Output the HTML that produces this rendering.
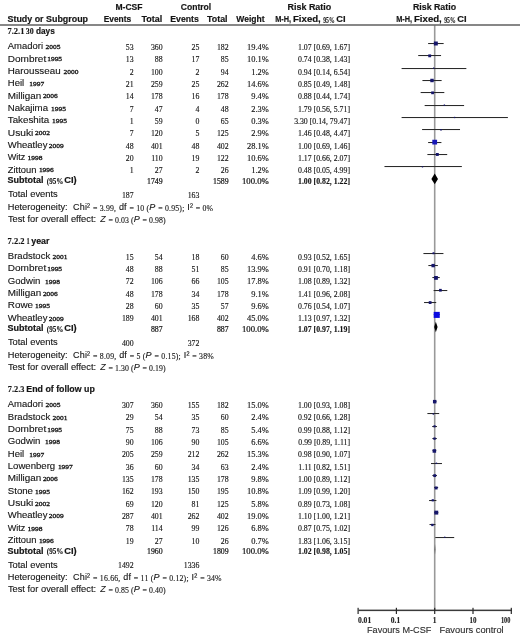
<!DOCTYPE html>
<html><head><meta charset="utf-8"><style>
html,body{margin:0;padding:0;background:#fff;width:520px;height:636px;overflow:hidden}
svg{display:block;filter:blur(0.25px)}
text{stroke:#151515;stroke-width:.12px}
text[font-weight="bold"]:not([font-family*="Serif"]){stroke-width:.18px}
text[font-family*="Serif"]:not([font-weight="bold"]){stroke-width:.14px}
</style></head><body>
<svg width="520" height="636" viewBox="0 0 520 636">
<rect width="520" height="636" fill="#fff"/>
<rect x="433.90" y="25" width="1.6" height="585" fill="#999"/>
<rect x="0" y="24.2" width="520" height="1.6" fill="#6a6a6a"/>
<text x="129.00" y="9.50" font-family='"Liberation Sans"' font-size="9" font-weight="bold" text-anchor="middle" textLength="27.00" lengthAdjust="spacingAndGlyphs" fill="#151515">M-CSF</text>
<text x="196.00" y="9.50" font-family='"Liberation Sans"' font-size="9" font-weight="bold" text-anchor="middle" textLength="30.50" lengthAdjust="spacingAndGlyphs" fill="#151515">Control</text>
<text x="309.40" y="9.50" font-family='"Liberation Sans"' font-size="9" font-weight="bold" text-anchor="middle" textLength="43.70" lengthAdjust="spacingAndGlyphs" fill="#151515">Risk Ratio</text>
<text x="434.50" y="9.50" font-family='"Liberation Sans"' font-size="9" font-weight="bold" text-anchor="middle" textLength="43.10" lengthAdjust="spacingAndGlyphs" fill="#151515">Risk Ratio</text>
<text x="7.50" y="22.00" font-family='"Liberation Sans"' font-size="9" font-weight="bold" textLength="80.50" lengthAdjust="spacingAndGlyphs" fill="#151515">Study or Subgroup</text>
<text x="131.20" y="22.00" font-family='"Liberation Sans"' font-size="9" font-weight="bold" text-anchor="end" textLength="27.50" lengthAdjust="spacingAndGlyphs" fill="#151515">Events</text>
<text x="162.20" y="22.00" font-family='"Liberation Sans"' font-size="9" font-weight="bold" text-anchor="end" textLength="20.80" lengthAdjust="spacingAndGlyphs" fill="#151515">Total</text>
<text x="198.80" y="22.00" font-family='"Liberation Sans"' font-size="9" font-weight="bold" text-anchor="end" textLength="28.50" lengthAdjust="spacingAndGlyphs" fill="#151515">Events</text>
<text x="227.60" y="22.00" font-family='"Liberation Sans"' font-size="9" font-weight="bold" text-anchor="end" textLength="20.50" lengthAdjust="spacingAndGlyphs" fill="#151515">Total</text>
<text x="264.60" y="22.00" font-family='"Liberation Sans"' font-size="9" font-weight="bold" text-anchor="end" textLength="28.30" lengthAdjust="spacingAndGlyphs" fill="#151515">Weight</text>
<text x="275.20" y="22.00" font-family='"Liberation Sans"' font-size="9" font-weight="bold" textLength="15.90" lengthAdjust="spacingAndGlyphs" fill="#151515">M-H,</text>
<text x="293.00" y="22.00" font-family='"Liberation Sans"' font-size="9" font-weight="bold" textLength="27.80" lengthAdjust="spacingAndGlyphs" fill="#151515">Fixed,</text>
<text x="323.20" y="22.70" font-family='"Liberation Serif"' font-size="9" font-weight="bold" textLength="11.40" lengthAdjust="spacingAndGlyphs" fill="#151515">95%</text>
<text x="336.20" y="22.00" font-family='"Liberation Sans"' font-size="9" font-weight="bold" textLength="9.30" lengthAdjust="spacingAndGlyphs" fill="#151515">CI</text>
<text x="396.20" y="22.00" font-family='"Liberation Sans"' font-size="9" font-weight="bold" textLength="15.90" lengthAdjust="spacingAndGlyphs" fill="#151515">M-H,</text>
<text x="414.00" y="22.00" font-family='"Liberation Sans"' font-size="9" font-weight="bold" textLength="27.80" lengthAdjust="spacingAndGlyphs" fill="#151515">Fixed,</text>
<text x="444.20" y="22.70" font-family='"Liberation Serif"' font-size="9" font-weight="bold" textLength="11.40" lengthAdjust="spacingAndGlyphs" fill="#151515">95%</text>
<text x="457.20" y="22.00" font-family='"Liberation Sans"' font-size="9" font-weight="bold" textLength="9.30" lengthAdjust="spacingAndGlyphs" fill="#151515">CI</text>
<text x="7.50" y="33.80" font-family='"Liberation Serif"' font-size="8.0" font-weight="bold" textLength="16.90" lengthAdjust="spacingAndGlyphs" fill="#151515">7.2.1</text>
<text x="25.80" y="33.80" font-family='"Liberation Serif"' font-size="8.0" font-weight="bold" textLength="7.90" lengthAdjust="spacingAndGlyphs" fill="#151515">30</text>
<text x="36.00" y="34.00" font-family='"Liberation Sans"' font-size="9" font-weight="bold" textLength="18.80" lengthAdjust="spacingAndGlyphs" fill="#151515">days</text>
<text x="7.80" y="49.20" font-family='"Liberation Sans"' font-size="9" textLength="35.20" lengthAdjust="spacingAndGlyphs" fill="#151515">Amadori</text>
<text x="45.60" y="49.10" font-family='"Liberation Serif"' font-size="6.6" fill="#151515" style="stroke-width:.3px" textLength="14.9" lengthAdjust="spacingAndGlyphs">2005</text>
<text x="133.60" y="50.00" font-family='"Liberation Serif"' font-size="7.8" text-anchor="end" fill="#151515">53</text>
<text x="162.60" y="50.00" font-family='"Liberation Serif"' font-size="7.8" text-anchor="end" fill="#151515">360</text>
<text x="199.40" y="50.00" font-family='"Liberation Serif"' font-size="7.8" text-anchor="end" fill="#151515">25</text>
<text x="228.60" y="50.00" font-family='"Liberation Serif"' font-size="7.8" text-anchor="end" fill="#151515">182</text>
<text x="268.80" y="50.00" font-family='"Liberation Serif"' font-size="7.8" text-anchor="end" textLength="21.76" lengthAdjust="spacingAndGlyphs" fill="#151515">19.4%</text>
<text x="350.00" y="50.00" font-family='"Liberation Serif"' font-size="7.8" text-anchor="end" fill="#151515">1.07 [0.69, 1.67]</text>
<text x="7.80" y="61.53" font-family='"Liberation Sans"' font-size="9" textLength="38.40" lengthAdjust="spacingAndGlyphs" fill="#151515">Dombret</text>
<text x="47.20" y="61.43" font-family='"Liberation Serif"' font-size="6.6" fill="#151515" style="stroke-width:.3px" textLength="14.9" lengthAdjust="spacingAndGlyphs">1995</text>
<text x="133.60" y="62.33" font-family='"Liberation Serif"' font-size="7.8" text-anchor="end" fill="#151515">13</text>
<text x="162.60" y="62.33" font-family='"Liberation Serif"' font-size="7.8" text-anchor="end" fill="#151515">88</text>
<text x="199.40" y="62.33" font-family='"Liberation Serif"' font-size="7.8" text-anchor="end" fill="#151515">17</text>
<text x="228.60" y="62.33" font-family='"Liberation Serif"' font-size="7.8" text-anchor="end" fill="#151515">85</text>
<text x="268.80" y="62.33" font-family='"Liberation Serif"' font-size="7.8" text-anchor="end" textLength="21.76" lengthAdjust="spacingAndGlyphs" fill="#151515">10.1%</text>
<text x="350.00" y="62.33" font-family='"Liberation Serif"' font-size="7.8" text-anchor="end" fill="#151515">0.74 [0.38, 1.43]</text>
<text x="7.80" y="73.86" font-family='"Liberation Sans"' font-size="9" textLength="52.80" lengthAdjust="spacingAndGlyphs" fill="#151515">Harousseau</text>
<text x="63.60" y="73.76" font-family='"Liberation Serif"' font-size="6.6" fill="#151515" style="stroke-width:.3px" textLength="14.9" lengthAdjust="spacingAndGlyphs">2000</text>
<text x="133.60" y="74.66" font-family='"Liberation Serif"' font-size="7.8" text-anchor="end" fill="#151515">2</text>
<text x="162.60" y="74.66" font-family='"Liberation Serif"' font-size="7.8" text-anchor="end" fill="#151515">100</text>
<text x="199.40" y="74.66" font-family='"Liberation Serif"' font-size="7.8" text-anchor="end" fill="#151515">2</text>
<text x="228.60" y="74.66" font-family='"Liberation Serif"' font-size="7.8" text-anchor="end" fill="#151515">94</text>
<text x="268.80" y="74.66" font-family='"Liberation Serif"' font-size="7.8" text-anchor="end" textLength="17.55" lengthAdjust="spacingAndGlyphs" fill="#151515">1.2%</text>
<text x="350.00" y="74.66" font-family='"Liberation Serif"' font-size="7.8" text-anchor="end" fill="#151515">0.94 [0.14, 6.54]</text>
<text x="7.80" y="86.19" font-family='"Liberation Sans"' font-size="9" textLength="16.40" lengthAdjust="spacingAndGlyphs" fill="#151515">Heil</text>
<text x="29.30" y="86.09" font-family='"Liberation Serif"' font-size="6.6" fill="#151515" style="stroke-width:.3px" textLength="14.9" lengthAdjust="spacingAndGlyphs">1997</text>
<text x="133.60" y="86.99" font-family='"Liberation Serif"' font-size="7.8" text-anchor="end" fill="#151515">21</text>
<text x="162.60" y="86.99" font-family='"Liberation Serif"' font-size="7.8" text-anchor="end" fill="#151515">259</text>
<text x="199.40" y="86.99" font-family='"Liberation Serif"' font-size="7.8" text-anchor="end" fill="#151515">25</text>
<text x="228.60" y="86.99" font-family='"Liberation Serif"' font-size="7.8" text-anchor="end" fill="#151515">262</text>
<text x="268.80" y="86.99" font-family='"Liberation Serif"' font-size="7.8" text-anchor="end" textLength="21.76" lengthAdjust="spacingAndGlyphs" fill="#151515">14.6%</text>
<text x="350.00" y="86.99" font-family='"Liberation Serif"' font-size="7.8" text-anchor="end" fill="#151515">0.85 [0.49, 1.48]</text>
<text x="7.80" y="98.52" font-family='"Liberation Sans"' font-size="9" textLength="33.40" lengthAdjust="spacingAndGlyphs" fill="#151515">Milligan</text>
<text x="42.90" y="98.42" font-family='"Liberation Serif"' font-size="6.6" fill="#151515" style="stroke-width:.3px" textLength="14.9" lengthAdjust="spacingAndGlyphs">2006</text>
<text x="133.60" y="99.32" font-family='"Liberation Serif"' font-size="7.8" text-anchor="end" fill="#151515">14</text>
<text x="162.60" y="99.32" font-family='"Liberation Serif"' font-size="7.8" text-anchor="end" fill="#151515">178</text>
<text x="199.40" y="99.32" font-family='"Liberation Serif"' font-size="7.8" text-anchor="end" fill="#151515">16</text>
<text x="228.60" y="99.32" font-family='"Liberation Serif"' font-size="7.8" text-anchor="end" fill="#151515">178</text>
<text x="268.80" y="99.32" font-family='"Liberation Serif"' font-size="7.8" text-anchor="end" textLength="17.55" lengthAdjust="spacingAndGlyphs" fill="#151515">9.4%</text>
<text x="350.00" y="99.32" font-family='"Liberation Serif"' font-size="7.8" text-anchor="end" fill="#151515">0.88 [0.44, 1.74]</text>
<text x="7.80" y="110.85" font-family='"Liberation Sans"' font-size="9" textLength="40.20" lengthAdjust="spacingAndGlyphs" fill="#151515">Nakajima</text>
<text x="51.00" y="110.75" font-family='"Liberation Serif"' font-size="6.6" fill="#151515" style="stroke-width:.3px" textLength="14.9" lengthAdjust="spacingAndGlyphs">1995</text>
<text x="133.60" y="111.65" font-family='"Liberation Serif"' font-size="7.8" text-anchor="end" fill="#151515">7</text>
<text x="162.60" y="111.65" font-family='"Liberation Serif"' font-size="7.8" text-anchor="end" fill="#151515">47</text>
<text x="199.40" y="111.65" font-family='"Liberation Serif"' font-size="7.8" text-anchor="end" fill="#151515">4</text>
<text x="228.60" y="111.65" font-family='"Liberation Serif"' font-size="7.8" text-anchor="end" fill="#151515">48</text>
<text x="268.80" y="111.65" font-family='"Liberation Serif"' font-size="7.8" text-anchor="end" textLength="17.55" lengthAdjust="spacingAndGlyphs" fill="#151515">2.3%</text>
<text x="350.00" y="111.65" font-family='"Liberation Serif"' font-size="7.8" text-anchor="end" fill="#151515">1.79 [0.56, 5.71]</text>
<text x="7.80" y="123.18" font-family='"Liberation Sans"' font-size="9" textLength="41.30" lengthAdjust="spacingAndGlyphs" fill="#151515">Takeshita</text>
<text x="52.00" y="123.08" font-family='"Liberation Serif"' font-size="6.6" fill="#151515" style="stroke-width:.3px" textLength="14.9" lengthAdjust="spacingAndGlyphs">1995</text>
<text x="133.60" y="123.98" font-family='"Liberation Serif"' font-size="7.8" text-anchor="end" fill="#151515">1</text>
<text x="162.60" y="123.98" font-family='"Liberation Serif"' font-size="7.8" text-anchor="end" fill="#151515">59</text>
<text x="199.40" y="123.98" font-family='"Liberation Serif"' font-size="7.8" text-anchor="end" fill="#151515">0</text>
<text x="228.60" y="123.98" font-family='"Liberation Serif"' font-size="7.8" text-anchor="end" fill="#151515">65</text>
<text x="268.80" y="123.98" font-family='"Liberation Serif"' font-size="7.8" text-anchor="end" textLength="17.55" lengthAdjust="spacingAndGlyphs" fill="#151515">0.3%</text>
<text x="350.00" y="123.98" font-family='"Liberation Serif"' font-size="7.8" text-anchor="end" fill="#151515">3.30 [0.14, 79.47]</text>
<text x="7.80" y="135.51" font-family='"Liberation Sans"' font-size="9" textLength="25.50" lengthAdjust="spacingAndGlyphs" fill="#151515">Usuki</text>
<text x="35.00" y="135.41" font-family='"Liberation Serif"' font-size="6.6" fill="#151515" style="stroke-width:.3px" textLength="14.9" lengthAdjust="spacingAndGlyphs">2002</text>
<text x="133.60" y="136.31" font-family='"Liberation Serif"' font-size="7.8" text-anchor="end" fill="#151515">7</text>
<text x="162.60" y="136.31" font-family='"Liberation Serif"' font-size="7.8" text-anchor="end" fill="#151515">120</text>
<text x="199.40" y="136.31" font-family='"Liberation Serif"' font-size="7.8" text-anchor="end" fill="#151515">5</text>
<text x="228.60" y="136.31" font-family='"Liberation Serif"' font-size="7.8" text-anchor="end" fill="#151515">125</text>
<text x="268.80" y="136.31" font-family='"Liberation Serif"' font-size="7.8" text-anchor="end" textLength="17.55" lengthAdjust="spacingAndGlyphs" fill="#151515">2.9%</text>
<text x="350.00" y="136.31" font-family='"Liberation Serif"' font-size="7.8" text-anchor="end" fill="#151515">1.46 [0.48, 4.47]</text>
<text x="7.80" y="147.84" font-family='"Liberation Sans"' font-size="9" textLength="39.60" lengthAdjust="spacingAndGlyphs" fill="#151515">Wheatley</text>
<text x="48.80" y="147.74" font-family='"Liberation Serif"' font-size="6.6" fill="#151515" style="stroke-width:.3px" textLength="14.9" lengthAdjust="spacingAndGlyphs">2009</text>
<text x="133.60" y="148.64" font-family='"Liberation Serif"' font-size="7.8" text-anchor="end" fill="#151515">48</text>
<text x="162.60" y="148.64" font-family='"Liberation Serif"' font-size="7.8" text-anchor="end" fill="#151515">401</text>
<text x="199.40" y="148.64" font-family='"Liberation Serif"' font-size="7.8" text-anchor="end" fill="#151515">48</text>
<text x="228.60" y="148.64" font-family='"Liberation Serif"' font-size="7.8" text-anchor="end" fill="#151515">402</text>
<text x="268.80" y="148.64" font-family='"Liberation Serif"' font-size="7.8" text-anchor="end" textLength="21.76" lengthAdjust="spacingAndGlyphs" fill="#151515">28.1%</text>
<text x="350.00" y="148.64" font-family='"Liberation Serif"' font-size="7.8" text-anchor="end" fill="#151515">1.00 [0.69, 1.46]</text>
<text x="7.80" y="160.17" font-family='"Liberation Sans"' font-size="9" textLength="17.60" lengthAdjust="spacingAndGlyphs" fill="#151515">Witz</text>
<text x="27.50" y="160.07" font-family='"Liberation Serif"' font-size="6.6" fill="#151515" style="stroke-width:.3px" textLength="14.9" lengthAdjust="spacingAndGlyphs">1998</text>
<text x="133.60" y="160.97" font-family='"Liberation Serif"' font-size="7.8" text-anchor="end" fill="#151515">20</text>
<text x="162.60" y="160.97" font-family='"Liberation Serif"' font-size="7.8" text-anchor="end" fill="#151515">110</text>
<text x="199.40" y="160.97" font-family='"Liberation Serif"' font-size="7.8" text-anchor="end" fill="#151515">19</text>
<text x="228.60" y="160.97" font-family='"Liberation Serif"' font-size="7.8" text-anchor="end" fill="#151515">122</text>
<text x="268.80" y="160.97" font-family='"Liberation Serif"' font-size="7.8" text-anchor="end" textLength="21.76" lengthAdjust="spacingAndGlyphs" fill="#151515">10.6%</text>
<text x="350.00" y="160.97" font-family='"Liberation Serif"' font-size="7.8" text-anchor="end" fill="#151515">1.17 [0.66, 2.07]</text>
<text x="7.80" y="172.50" font-family='"Liberation Sans"' font-size="9" textLength="28.60" lengthAdjust="spacingAndGlyphs" fill="#151515">Zittoun</text>
<text x="38.90" y="172.40" font-family='"Liberation Serif"' font-size="6.6" fill="#151515" style="stroke-width:.3px" textLength="14.9" lengthAdjust="spacingAndGlyphs">1996</text>
<text x="133.60" y="173.30" font-family='"Liberation Serif"' font-size="7.8" text-anchor="end" fill="#151515">1</text>
<text x="162.60" y="173.30" font-family='"Liberation Serif"' font-size="7.8" text-anchor="end" fill="#151515">27</text>
<text x="199.40" y="173.30" font-family='"Liberation Serif"' font-size="7.8" text-anchor="end" fill="#151515">2</text>
<text x="228.60" y="173.30" font-family='"Liberation Serif"' font-size="7.8" text-anchor="end" fill="#151515">26</text>
<text x="268.80" y="173.30" font-family='"Liberation Serif"' font-size="7.8" text-anchor="end" textLength="17.55" lengthAdjust="spacingAndGlyphs" fill="#151515">1.2%</text>
<text x="350.00" y="173.30" font-family='"Liberation Serif"' font-size="7.8" text-anchor="end" fill="#151515">0.48 [0.05, 4.99]</text>
<text x="7.50" y="183.10" font-family='"Liberation Sans"' font-size="9" font-weight="bold" fill="#151515">Subtotal</text>
<text x="46.80" y="183.90" font-family='"Liberation Serif"' font-size="7.8" font-weight="bold" textLength="16.50" lengthAdjust="spacingAndGlyphs" fill="#151515">(95%</text>
<text x="64.30" y="183.10" font-family='"Liberation Sans"' font-size="9" font-weight="bold" textLength="12.40" lengthAdjust="spacingAndGlyphs" fill="#151515">CI)</text>
<text x="162.60" y="183.90" font-family='"Liberation Serif"' font-size="7.8" text-anchor="end" fill="#151515" style="stroke-width:.22px">1749</text>
<text x="228.60" y="183.90" font-family='"Liberation Serif"' font-size="7.8" text-anchor="end" fill="#151515" style="stroke-width:.22px">1589</text>
<text x="268.80" y="183.90" font-family='"Liberation Serif"' font-size="7.8" text-anchor="end" fill="#151515" style="stroke-width:.22px" textLength="26.8" lengthAdjust="spacingAndGlyphs">100.0%</text>
<text x="350.00" y="183.90" font-family='"Liberation Serif"' font-size="7.8" font-weight="bold" text-anchor="end" fill="#151515">1.00 [0.82, 1.22]</text>
<text x="7.90" y="197.10" font-family='"Liberation Sans"' font-size="9" textLength="49.80" lengthAdjust="spacingAndGlyphs" fill="#151515">Total events</text>
<text x="133.60" y="197.90" font-family='"Liberation Serif"' font-size="7.8" text-anchor="end" fill="#151515">187</text>
<text x="199.40" y="197.90" font-family='"Liberation Serif"' font-size="7.8" text-anchor="end" fill="#151515">163</text>
<text x="7.80" y="209.90" font-family='"Liberation Sans"' font-size="9" textLength="59.80" lengthAdjust="spacingAndGlyphs" fill="#151515">Heterogeneity:</text>
<text x="73.0" y="209.90" font-family='"Liberation Sans"' font-size="9" fill="#151515" textLength="140.10" lengthAdjust="spacing">Chi² <tspan font-family='"Liberation Serif"' font-size="7.8" dy="0.8">= 3.99,</tspan><tspan dy="-0.8"> df </tspan><tspan font-family='"Liberation Serif"' font-size="7.8" dy="0.8">= 10 (</tspan><tspan font-style="italic" dy="-0.8">P</tspan> <tspan font-family='"Liberation Serif"' font-size="7.8" dy="0.8">= 0.95);</tspan><tspan dy="-0.8"> I² </tspan><tspan font-family='"Liberation Serif"' font-size="7.8" dy="0.8">= 0%</tspan></text>
<text x="7.90" y="221.90" font-family='"Liberation Sans"' font-size="9" textLength="88.20" lengthAdjust="spacingAndGlyphs" fill="#151515">Test for overall effect:</text>
<text x="100.2" y="221.90" font-family='"Liberation Sans"' font-size="9" fill="#151515" textLength="65.50" lengthAdjust="spacing"><tspan font-style="italic">Z</tspan> <tspan font-family='"Liberation Serif"' font-size="7.8" dy="0.8">= 0.03 (</tspan><tspan font-style="italic" dy="-0.8">P</tspan> <tspan font-family='"Liberation Serif"' font-size="7.8" dy="0.8">= 0.98)</tspan></text>
<text x="7.60" y="243.80" font-family='"Liberation Serif"' font-size="8.0" font-weight="bold" textLength="17.00" lengthAdjust="spacingAndGlyphs" fill="#151515">7.2.2</text>
<text x="26.40" y="243.80" font-family='"Liberation Serif"' font-size="8.0" font-weight="bold" textLength="3.20" lengthAdjust="spacingAndGlyphs" fill="#151515">1</text>
<text x="31.20" y="244.00" font-family='"Liberation Sans"' font-size="9" font-weight="bold" textLength="18.30" lengthAdjust="spacingAndGlyphs" fill="#151515">year</text>
<text x="7.80" y="258.95" font-family='"Liberation Sans"' font-size="9" textLength="42.40" lengthAdjust="spacingAndGlyphs" fill="#151515">Bradstock</text>
<text x="52.50" y="258.85" font-family='"Liberation Serif"' font-size="6.6" fill="#151515" style="stroke-width:.3px" textLength="14.9" lengthAdjust="spacingAndGlyphs">2001</text>
<text x="133.60" y="259.75" font-family='"Liberation Serif"' font-size="7.8" text-anchor="end" fill="#151515">15</text>
<text x="162.60" y="259.75" font-family='"Liberation Serif"' font-size="7.8" text-anchor="end" fill="#151515">54</text>
<text x="199.40" y="259.75" font-family='"Liberation Serif"' font-size="7.8" text-anchor="end" fill="#151515">18</text>
<text x="228.60" y="259.75" font-family='"Liberation Serif"' font-size="7.8" text-anchor="end" fill="#151515">60</text>
<text x="268.80" y="259.75" font-family='"Liberation Serif"' font-size="7.8" text-anchor="end" textLength="17.55" lengthAdjust="spacingAndGlyphs" fill="#151515">4.6%</text>
<text x="350.00" y="259.75" font-family='"Liberation Serif"' font-size="7.8" text-anchor="end" fill="#151515">0.93 [0.52, 1.65]</text>
<text x="7.80" y="271.28" font-family='"Liberation Sans"' font-size="9" textLength="38.40" lengthAdjust="spacingAndGlyphs" fill="#151515">Dombret</text>
<text x="47.20" y="271.18" font-family='"Liberation Serif"' font-size="6.6" fill="#151515" style="stroke-width:.3px" textLength="14.9" lengthAdjust="spacingAndGlyphs">1995</text>
<text x="133.60" y="272.08" font-family='"Liberation Serif"' font-size="7.8" text-anchor="end" fill="#151515">48</text>
<text x="162.60" y="272.08" font-family='"Liberation Serif"' font-size="7.8" text-anchor="end" fill="#151515">88</text>
<text x="199.40" y="272.08" font-family='"Liberation Serif"' font-size="7.8" text-anchor="end" fill="#151515">51</text>
<text x="228.60" y="272.08" font-family='"Liberation Serif"' font-size="7.8" text-anchor="end" fill="#151515">85</text>
<text x="268.80" y="272.08" font-family='"Liberation Serif"' font-size="7.8" text-anchor="end" textLength="21.76" lengthAdjust="spacingAndGlyphs" fill="#151515">13.9%</text>
<text x="350.00" y="272.08" font-family='"Liberation Serif"' font-size="7.8" text-anchor="end" fill="#151515">0.91 [0.70, 1.18]</text>
<text x="7.80" y="283.61" font-family='"Liberation Sans"' font-size="9" textLength="32.60" lengthAdjust="spacingAndGlyphs" fill="#151515">Godwin</text>
<text x="45.00" y="283.51" font-family='"Liberation Serif"' font-size="6.6" fill="#151515" style="stroke-width:.3px" textLength="14.9" lengthAdjust="spacingAndGlyphs">1998</text>
<text x="133.60" y="284.41" font-family='"Liberation Serif"' font-size="7.8" text-anchor="end" fill="#151515">72</text>
<text x="162.60" y="284.41" font-family='"Liberation Serif"' font-size="7.8" text-anchor="end" fill="#151515">106</text>
<text x="199.40" y="284.41" font-family='"Liberation Serif"' font-size="7.8" text-anchor="end" fill="#151515">66</text>
<text x="228.60" y="284.41" font-family='"Liberation Serif"' font-size="7.8" text-anchor="end" fill="#151515">105</text>
<text x="268.80" y="284.41" font-family='"Liberation Serif"' font-size="7.8" text-anchor="end" textLength="21.76" lengthAdjust="spacingAndGlyphs" fill="#151515">17.8%</text>
<text x="350.00" y="284.41" font-family='"Liberation Serif"' font-size="7.8" text-anchor="end" fill="#151515">1.08 [0.89, 1.32]</text>
<text x="7.80" y="295.94" font-family='"Liberation Sans"' font-size="9" textLength="33.40" lengthAdjust="spacingAndGlyphs" fill="#151515">Milligan</text>
<text x="42.90" y="295.84" font-family='"Liberation Serif"' font-size="6.6" fill="#151515" style="stroke-width:.3px" textLength="14.9" lengthAdjust="spacingAndGlyphs">2006</text>
<text x="133.60" y="296.74" font-family='"Liberation Serif"' font-size="7.8" text-anchor="end" fill="#151515">48</text>
<text x="162.60" y="296.74" font-family='"Liberation Serif"' font-size="7.8" text-anchor="end" fill="#151515">178</text>
<text x="199.40" y="296.74" font-family='"Liberation Serif"' font-size="7.8" text-anchor="end" fill="#151515">34</text>
<text x="228.60" y="296.74" font-family='"Liberation Serif"' font-size="7.8" text-anchor="end" fill="#151515">178</text>
<text x="268.80" y="296.74" font-family='"Liberation Serif"' font-size="7.8" text-anchor="end" textLength="17.55" lengthAdjust="spacingAndGlyphs" fill="#151515">9.1%</text>
<text x="350.00" y="296.74" font-family='"Liberation Serif"' font-size="7.8" text-anchor="end" fill="#151515">1.41 [0.96, 2.08]</text>
<text x="7.80" y="308.27" font-family='"Liberation Sans"' font-size="9" textLength="25.20" lengthAdjust="spacingAndGlyphs" fill="#151515">Rowe</text>
<text x="35.00" y="308.17" font-family='"Liberation Serif"' font-size="6.6" fill="#151515" style="stroke-width:.3px" textLength="14.9" lengthAdjust="spacingAndGlyphs">1995</text>
<text x="133.60" y="309.07" font-family='"Liberation Serif"' font-size="7.8" text-anchor="end" fill="#151515">28</text>
<text x="162.60" y="309.07" font-family='"Liberation Serif"' font-size="7.8" text-anchor="end" fill="#151515">60</text>
<text x="199.40" y="309.07" font-family='"Liberation Serif"' font-size="7.8" text-anchor="end" fill="#151515">35</text>
<text x="228.60" y="309.07" font-family='"Liberation Serif"' font-size="7.8" text-anchor="end" fill="#151515">57</text>
<text x="268.80" y="309.07" font-family='"Liberation Serif"' font-size="7.8" text-anchor="end" textLength="17.55" lengthAdjust="spacingAndGlyphs" fill="#151515">9.6%</text>
<text x="350.00" y="309.07" font-family='"Liberation Serif"' font-size="7.8" text-anchor="end" fill="#151515">0.76 [0.54, 1.07]</text>
<text x="7.80" y="320.60" font-family='"Liberation Sans"' font-size="9" textLength="39.60" lengthAdjust="spacingAndGlyphs" fill="#151515">Wheatley</text>
<text x="48.80" y="320.50" font-family='"Liberation Serif"' font-size="6.6" fill="#151515" style="stroke-width:.3px" textLength="14.9" lengthAdjust="spacingAndGlyphs">2009</text>
<text x="133.60" y="321.40" font-family='"Liberation Serif"' font-size="7.8" text-anchor="end" fill="#151515">189</text>
<text x="162.60" y="321.40" font-family='"Liberation Serif"' font-size="7.8" text-anchor="end" fill="#151515">401</text>
<text x="199.40" y="321.40" font-family='"Liberation Serif"' font-size="7.8" text-anchor="end" fill="#151515">168</text>
<text x="228.60" y="321.40" font-family='"Liberation Serif"' font-size="7.8" text-anchor="end" fill="#151515">402</text>
<text x="268.80" y="321.40" font-family='"Liberation Serif"' font-size="7.8" text-anchor="end" textLength="21.76" lengthAdjust="spacingAndGlyphs" fill="#151515">45.0%</text>
<text x="350.00" y="321.40" font-family='"Liberation Serif"' font-size="7.8" text-anchor="end" fill="#151515">1.13 [0.97, 1.32]</text>
<text x="7.50" y="331.20" font-family='"Liberation Sans"' font-size="9" font-weight="bold" fill="#151515">Subtotal</text>
<text x="46.80" y="332.00" font-family='"Liberation Serif"' font-size="7.8" font-weight="bold" textLength="16.50" lengthAdjust="spacingAndGlyphs" fill="#151515">(95%</text>
<text x="64.30" y="331.20" font-family='"Liberation Sans"' font-size="9" font-weight="bold" textLength="12.40" lengthAdjust="spacingAndGlyphs" fill="#151515">CI)</text>
<text x="162.60" y="332.00" font-family='"Liberation Serif"' font-size="7.8" text-anchor="end" fill="#151515" style="stroke-width:.22px">887</text>
<text x="228.60" y="332.00" font-family='"Liberation Serif"' font-size="7.8" text-anchor="end" fill="#151515" style="stroke-width:.22px">887</text>
<text x="268.80" y="332.00" font-family='"Liberation Serif"' font-size="7.8" text-anchor="end" fill="#151515" style="stroke-width:.22px" textLength="26.8" lengthAdjust="spacingAndGlyphs">100.0%</text>
<text x="350.00" y="332.00" font-family='"Liberation Serif"' font-size="7.8" font-weight="bold" text-anchor="end" fill="#151515">1.07 [0.97, 1.19]</text>
<text x="7.90" y="345.20" font-family='"Liberation Sans"' font-size="9" textLength="49.80" lengthAdjust="spacingAndGlyphs" fill="#151515">Total events</text>
<text x="133.60" y="346.00" font-family='"Liberation Serif"' font-size="7.8" text-anchor="end" fill="#151515">400</text>
<text x="199.40" y="346.00" font-family='"Liberation Serif"' font-size="7.8" text-anchor="end" fill="#151515">372</text>
<text x="7.80" y="358.00" font-family='"Liberation Sans"' font-size="9" textLength="59.80" lengthAdjust="spacingAndGlyphs" fill="#151515">Heterogeneity:</text>
<text x="73.0" y="358.00" font-family='"Liberation Sans"' font-size="9" fill="#151515" textLength="140.80" lengthAdjust="spacing">Chi² <tspan font-family='"Liberation Serif"' font-size="7.8" dy="0.8">= 8.09,</tspan><tspan dy="-0.8"> df </tspan><tspan font-family='"Liberation Serif"' font-size="7.8" dy="0.8">= 5 (</tspan><tspan font-style="italic" dy="-0.8">P</tspan> <tspan font-family='"Liberation Serif"' font-size="7.8" dy="0.8">= 0.15);</tspan><tspan dy="-0.8"> I² </tspan><tspan font-family='"Liberation Serif"' font-size="7.8" dy="0.8">= 38%</tspan></text>
<text x="7.90" y="370.00" font-family='"Liberation Sans"' font-size="9" textLength="88.20" lengthAdjust="spacingAndGlyphs" fill="#151515">Test for overall effect:</text>
<text x="100.2" y="370.00" font-family='"Liberation Sans"' font-size="9" fill="#151515" textLength="65.50" lengthAdjust="spacing"><tspan font-style="italic">Z</tspan> <tspan font-family='"Liberation Serif"' font-size="7.8" dy="0.8">= 1.30 (</tspan><tspan font-style="italic" dy="-0.8">P</tspan> <tspan font-family='"Liberation Serif"' font-size="7.8" dy="0.8">= 0.19)</tspan></text>
<text x="7.80" y="392.00" font-family='"Liberation Serif"' font-size="8.0" font-weight="bold" textLength="16.70" lengthAdjust="spacingAndGlyphs" fill="#151515">7.2.3</text>
<text x="26.30" y="392.20" font-family='"Liberation Sans"' font-size="9" font-weight="bold" textLength="68.50" lengthAdjust="spacingAndGlyphs" fill="#151515">End of follow up</text>
<text x="7.80" y="407.35" font-family='"Liberation Sans"' font-size="9" textLength="35.20" lengthAdjust="spacingAndGlyphs" fill="#151515">Amadori</text>
<text x="45.60" y="407.25" font-family='"Liberation Serif"' font-size="6.6" fill="#151515" style="stroke-width:.3px" textLength="14.9" lengthAdjust="spacingAndGlyphs">2005</text>
<text x="133.60" y="408.15" font-family='"Liberation Serif"' font-size="7.8" text-anchor="end" fill="#151515">307</text>
<text x="162.60" y="408.15" font-family='"Liberation Serif"' font-size="7.8" text-anchor="end" fill="#151515">360</text>
<text x="199.40" y="408.15" font-family='"Liberation Serif"' font-size="7.8" text-anchor="end" fill="#151515">155</text>
<text x="228.60" y="408.15" font-family='"Liberation Serif"' font-size="7.8" text-anchor="end" fill="#151515">182</text>
<text x="268.80" y="408.15" font-family='"Liberation Serif"' font-size="7.8" text-anchor="end" textLength="21.76" lengthAdjust="spacingAndGlyphs" fill="#151515">15.0%</text>
<text x="350.00" y="408.15" font-family='"Liberation Serif"' font-size="7.8" text-anchor="end" fill="#151515">1.00 [0.93, 1.08]</text>
<text x="7.80" y="419.68" font-family='"Liberation Sans"' font-size="9" textLength="42.40" lengthAdjust="spacingAndGlyphs" fill="#151515">Bradstock</text>
<text x="52.50" y="419.58" font-family='"Liberation Serif"' font-size="6.6" fill="#151515" style="stroke-width:.3px" textLength="14.9" lengthAdjust="spacingAndGlyphs">2001</text>
<text x="133.60" y="420.48" font-family='"Liberation Serif"' font-size="7.8" text-anchor="end" fill="#151515">29</text>
<text x="162.60" y="420.48" font-family='"Liberation Serif"' font-size="7.8" text-anchor="end" fill="#151515">54</text>
<text x="199.40" y="420.48" font-family='"Liberation Serif"' font-size="7.8" text-anchor="end" fill="#151515">35</text>
<text x="228.60" y="420.48" font-family='"Liberation Serif"' font-size="7.8" text-anchor="end" fill="#151515">60</text>
<text x="268.80" y="420.48" font-family='"Liberation Serif"' font-size="7.8" text-anchor="end" textLength="17.55" lengthAdjust="spacingAndGlyphs" fill="#151515">2.4%</text>
<text x="350.00" y="420.48" font-family='"Liberation Serif"' font-size="7.8" text-anchor="end" fill="#151515">0.92 [0.66, 1.28]</text>
<text x="7.80" y="432.01" font-family='"Liberation Sans"' font-size="9" textLength="38.40" lengthAdjust="spacingAndGlyphs" fill="#151515">Dombret</text>
<text x="47.20" y="431.91" font-family='"Liberation Serif"' font-size="6.6" fill="#151515" style="stroke-width:.3px" textLength="14.9" lengthAdjust="spacingAndGlyphs">1995</text>
<text x="133.60" y="432.81" font-family='"Liberation Serif"' font-size="7.8" text-anchor="end" fill="#151515">75</text>
<text x="162.60" y="432.81" font-family='"Liberation Serif"' font-size="7.8" text-anchor="end" fill="#151515">88</text>
<text x="199.40" y="432.81" font-family='"Liberation Serif"' font-size="7.8" text-anchor="end" fill="#151515">73</text>
<text x="228.60" y="432.81" font-family='"Liberation Serif"' font-size="7.8" text-anchor="end" fill="#151515">85</text>
<text x="268.80" y="432.81" font-family='"Liberation Serif"' font-size="7.8" text-anchor="end" textLength="17.55" lengthAdjust="spacingAndGlyphs" fill="#151515">5.4%</text>
<text x="350.00" y="432.81" font-family='"Liberation Serif"' font-size="7.8" text-anchor="end" fill="#151515">0.99 [0.88, 1.12]</text>
<text x="7.80" y="444.34" font-family='"Liberation Sans"' font-size="9" textLength="32.60" lengthAdjust="spacingAndGlyphs" fill="#151515">Godwin</text>
<text x="45.00" y="444.24" font-family='"Liberation Serif"' font-size="6.6" fill="#151515" style="stroke-width:.3px" textLength="14.9" lengthAdjust="spacingAndGlyphs">1998</text>
<text x="133.60" y="445.14" font-family='"Liberation Serif"' font-size="7.8" text-anchor="end" fill="#151515">90</text>
<text x="162.60" y="445.14" font-family='"Liberation Serif"' font-size="7.8" text-anchor="end" fill="#151515">106</text>
<text x="199.40" y="445.14" font-family='"Liberation Serif"' font-size="7.8" text-anchor="end" fill="#151515">90</text>
<text x="228.60" y="445.14" font-family='"Liberation Serif"' font-size="7.8" text-anchor="end" fill="#151515">105</text>
<text x="268.80" y="445.14" font-family='"Liberation Serif"' font-size="7.8" text-anchor="end" textLength="17.55" lengthAdjust="spacingAndGlyphs" fill="#151515">6.6%</text>
<text x="350.00" y="445.14" font-family='"Liberation Serif"' font-size="7.8" text-anchor="end" fill="#151515">0.99 [0.89, 1.11]</text>
<text x="7.80" y="456.67" font-family='"Liberation Sans"' font-size="9" textLength="16.40" lengthAdjust="spacingAndGlyphs" fill="#151515">Heil</text>
<text x="29.30" y="456.57" font-family='"Liberation Serif"' font-size="6.6" fill="#151515" style="stroke-width:.3px" textLength="14.9" lengthAdjust="spacingAndGlyphs">1997</text>
<text x="133.60" y="457.47" font-family='"Liberation Serif"' font-size="7.8" text-anchor="end" fill="#151515">205</text>
<text x="162.60" y="457.47" font-family='"Liberation Serif"' font-size="7.8" text-anchor="end" fill="#151515">259</text>
<text x="199.40" y="457.47" font-family='"Liberation Serif"' font-size="7.8" text-anchor="end" fill="#151515">212</text>
<text x="228.60" y="457.47" font-family='"Liberation Serif"' font-size="7.8" text-anchor="end" fill="#151515">262</text>
<text x="268.80" y="457.47" font-family='"Liberation Serif"' font-size="7.8" text-anchor="end" textLength="21.76" lengthAdjust="spacingAndGlyphs" fill="#151515">15.3%</text>
<text x="350.00" y="457.47" font-family='"Liberation Serif"' font-size="7.8" text-anchor="end" fill="#151515">0.98 [0.90, 1.07]</text>
<text x="7.80" y="469.00" font-family='"Liberation Sans"' font-size="9" textLength="47.40" lengthAdjust="spacingAndGlyphs" fill="#151515">Lowenberg</text>
<text x="57.90" y="468.90" font-family='"Liberation Serif"' font-size="6.6" fill="#151515" style="stroke-width:.3px" textLength="14.9" lengthAdjust="spacingAndGlyphs">1997</text>
<text x="133.60" y="469.80" font-family='"Liberation Serif"' font-size="7.8" text-anchor="end" fill="#151515">36</text>
<text x="162.60" y="469.80" font-family='"Liberation Serif"' font-size="7.8" text-anchor="end" fill="#151515">60</text>
<text x="199.40" y="469.80" font-family='"Liberation Serif"' font-size="7.8" text-anchor="end" fill="#151515">34</text>
<text x="228.60" y="469.80" font-family='"Liberation Serif"' font-size="7.8" text-anchor="end" fill="#151515">63</text>
<text x="268.80" y="469.80" font-family='"Liberation Serif"' font-size="7.8" text-anchor="end" textLength="17.55" lengthAdjust="spacingAndGlyphs" fill="#151515">2.4%</text>
<text x="350.00" y="469.80" font-family='"Liberation Serif"' font-size="7.8" text-anchor="end" fill="#151515">1.11 [0.82, 1.51]</text>
<text x="7.80" y="481.33" font-family='"Liberation Sans"' font-size="9" textLength="33.40" lengthAdjust="spacingAndGlyphs" fill="#151515">Milligan</text>
<text x="42.90" y="481.23" font-family='"Liberation Serif"' font-size="6.6" fill="#151515" style="stroke-width:.3px" textLength="14.9" lengthAdjust="spacingAndGlyphs">2006</text>
<text x="133.60" y="482.13" font-family='"Liberation Serif"' font-size="7.8" text-anchor="end" fill="#151515">135</text>
<text x="162.60" y="482.13" font-family='"Liberation Serif"' font-size="7.8" text-anchor="end" fill="#151515">178</text>
<text x="199.40" y="482.13" font-family='"Liberation Serif"' font-size="7.8" text-anchor="end" fill="#151515">135</text>
<text x="228.60" y="482.13" font-family='"Liberation Serif"' font-size="7.8" text-anchor="end" fill="#151515">178</text>
<text x="268.80" y="482.13" font-family='"Liberation Serif"' font-size="7.8" text-anchor="end" textLength="17.55" lengthAdjust="spacingAndGlyphs" fill="#151515">9.8%</text>
<text x="350.00" y="482.13" font-family='"Liberation Serif"' font-size="7.8" text-anchor="end" fill="#151515">1.00 [0.89, 1.12]</text>
<text x="7.80" y="493.66" font-family='"Liberation Sans"' font-size="9" textLength="25.20" lengthAdjust="spacingAndGlyphs" fill="#151515">Stone</text>
<text x="35.10" y="493.56" font-family='"Liberation Serif"' font-size="6.6" fill="#151515" style="stroke-width:.3px" textLength="14.9" lengthAdjust="spacingAndGlyphs">1995</text>
<text x="133.60" y="494.46" font-family='"Liberation Serif"' font-size="7.8" text-anchor="end" fill="#151515">162</text>
<text x="162.60" y="494.46" font-family='"Liberation Serif"' font-size="7.8" text-anchor="end" fill="#151515">193</text>
<text x="199.40" y="494.46" font-family='"Liberation Serif"' font-size="7.8" text-anchor="end" fill="#151515">150</text>
<text x="228.60" y="494.46" font-family='"Liberation Serif"' font-size="7.8" text-anchor="end" fill="#151515">195</text>
<text x="268.80" y="494.46" font-family='"Liberation Serif"' font-size="7.8" text-anchor="end" textLength="21.76" lengthAdjust="spacingAndGlyphs" fill="#151515">10.8%</text>
<text x="350.00" y="494.46" font-family='"Liberation Serif"' font-size="7.8" text-anchor="end" fill="#151515">1.09 [0.99, 1.20]</text>
<text x="7.80" y="505.99" font-family='"Liberation Sans"' font-size="9" textLength="25.50" lengthAdjust="spacingAndGlyphs" fill="#151515">Usuki</text>
<text x="35.00" y="505.89" font-family='"Liberation Serif"' font-size="6.6" fill="#151515" style="stroke-width:.3px" textLength="14.9" lengthAdjust="spacingAndGlyphs">2002</text>
<text x="133.60" y="506.79" font-family='"Liberation Serif"' font-size="7.8" text-anchor="end" fill="#151515">69</text>
<text x="162.60" y="506.79" font-family='"Liberation Serif"' font-size="7.8" text-anchor="end" fill="#151515">120</text>
<text x="199.40" y="506.79" font-family='"Liberation Serif"' font-size="7.8" text-anchor="end" fill="#151515">81</text>
<text x="228.60" y="506.79" font-family='"Liberation Serif"' font-size="7.8" text-anchor="end" fill="#151515">125</text>
<text x="268.80" y="506.79" font-family='"Liberation Serif"' font-size="7.8" text-anchor="end" textLength="17.55" lengthAdjust="spacingAndGlyphs" fill="#151515">5.8%</text>
<text x="350.00" y="506.79" font-family='"Liberation Serif"' font-size="7.8" text-anchor="end" fill="#151515">0.89 [0.73, 1.08]</text>
<text x="7.80" y="518.32" font-family='"Liberation Sans"' font-size="9" textLength="39.60" lengthAdjust="spacingAndGlyphs" fill="#151515">Wheatley</text>
<text x="48.80" y="518.22" font-family='"Liberation Serif"' font-size="6.6" fill="#151515" style="stroke-width:.3px" textLength="14.9" lengthAdjust="spacingAndGlyphs">2009</text>
<text x="133.60" y="519.12" font-family='"Liberation Serif"' font-size="7.8" text-anchor="end" fill="#151515">287</text>
<text x="162.60" y="519.12" font-family='"Liberation Serif"' font-size="7.8" text-anchor="end" fill="#151515">401</text>
<text x="199.40" y="519.12" font-family='"Liberation Serif"' font-size="7.8" text-anchor="end" fill="#151515">262</text>
<text x="228.60" y="519.12" font-family='"Liberation Serif"' font-size="7.8" text-anchor="end" fill="#151515">402</text>
<text x="268.80" y="519.12" font-family='"Liberation Serif"' font-size="7.8" text-anchor="end" textLength="21.76" lengthAdjust="spacingAndGlyphs" fill="#151515">19.0%</text>
<text x="350.00" y="519.12" font-family='"Liberation Serif"' font-size="7.8" text-anchor="end" fill="#151515">1.10 [1.00, 1.21]</text>
<text x="7.80" y="530.65" font-family='"Liberation Sans"' font-size="9" textLength="17.60" lengthAdjust="spacingAndGlyphs" fill="#151515">Witz</text>
<text x="27.50" y="530.55" font-family='"Liberation Serif"' font-size="6.6" fill="#151515" style="stroke-width:.3px" textLength="14.9" lengthAdjust="spacingAndGlyphs">1998</text>
<text x="133.60" y="531.45" font-family='"Liberation Serif"' font-size="7.8" text-anchor="end" fill="#151515">78</text>
<text x="162.60" y="531.45" font-family='"Liberation Serif"' font-size="7.8" text-anchor="end" fill="#151515">114</text>
<text x="199.40" y="531.45" font-family='"Liberation Serif"' font-size="7.8" text-anchor="end" fill="#151515">99</text>
<text x="228.60" y="531.45" font-family='"Liberation Serif"' font-size="7.8" text-anchor="end" fill="#151515">126</text>
<text x="268.80" y="531.45" font-family='"Liberation Serif"' font-size="7.8" text-anchor="end" textLength="17.55" lengthAdjust="spacingAndGlyphs" fill="#151515">6.8%</text>
<text x="350.00" y="531.45" font-family='"Liberation Serif"' font-size="7.8" text-anchor="end" fill="#151515">0.87 [0.75, 1.02]</text>
<text x="7.80" y="542.98" font-family='"Liberation Sans"' font-size="9" textLength="28.60" lengthAdjust="spacingAndGlyphs" fill="#151515">Zittoun</text>
<text x="38.90" y="542.88" font-family='"Liberation Serif"' font-size="6.6" fill="#151515" style="stroke-width:.3px" textLength="14.9" lengthAdjust="spacingAndGlyphs">1996</text>
<text x="133.60" y="543.78" font-family='"Liberation Serif"' font-size="7.8" text-anchor="end" fill="#151515">19</text>
<text x="162.60" y="543.78" font-family='"Liberation Serif"' font-size="7.8" text-anchor="end" fill="#151515">27</text>
<text x="199.40" y="543.78" font-family='"Liberation Serif"' font-size="7.8" text-anchor="end" fill="#151515">10</text>
<text x="228.60" y="543.78" font-family='"Liberation Serif"' font-size="7.8" text-anchor="end" fill="#151515">26</text>
<text x="268.80" y="543.78" font-family='"Liberation Serif"' font-size="7.8" text-anchor="end" textLength="17.55" lengthAdjust="spacingAndGlyphs" fill="#151515">0.7%</text>
<text x="350.00" y="543.78" font-family='"Liberation Serif"' font-size="7.8" text-anchor="end" fill="#151515">1.83 [1.06, 3.15]</text>
<text x="7.50" y="553.58" font-family='"Liberation Sans"' font-size="9" font-weight="bold" fill="#151515">Subtotal</text>
<text x="46.80" y="554.38" font-family='"Liberation Serif"' font-size="7.8" font-weight="bold" textLength="16.50" lengthAdjust="spacingAndGlyphs" fill="#151515">(95%</text>
<text x="64.30" y="553.58" font-family='"Liberation Sans"' font-size="9" font-weight="bold" textLength="12.40" lengthAdjust="spacingAndGlyphs" fill="#151515">CI)</text>
<text x="162.60" y="554.38" font-family='"Liberation Serif"' font-size="7.8" text-anchor="end" fill="#151515" style="stroke-width:.22px">1960</text>
<text x="228.60" y="554.38" font-family='"Liberation Serif"' font-size="7.8" text-anchor="end" fill="#151515" style="stroke-width:.22px">1809</text>
<text x="268.80" y="554.38" font-family='"Liberation Serif"' font-size="7.8" text-anchor="end" fill="#151515" style="stroke-width:.22px" textLength="26.8" lengthAdjust="spacingAndGlyphs">100.0%</text>
<text x="350.00" y="554.38" font-family='"Liberation Serif"' font-size="7.8" font-weight="bold" text-anchor="end" fill="#151515">1.02 [0.98, 1.05]</text>
<text x="7.90" y="567.58" font-family='"Liberation Sans"' font-size="9" textLength="49.80" lengthAdjust="spacingAndGlyphs" fill="#151515">Total events</text>
<text x="133.60" y="568.38" font-family='"Liberation Serif"' font-size="7.8" text-anchor="end" fill="#151515">1492</text>
<text x="199.40" y="568.38" font-family='"Liberation Serif"' font-size="7.8" text-anchor="end" fill="#151515">1336</text>
<text x="7.80" y="580.38" font-family='"Liberation Sans"' font-size="9" textLength="59.80" lengthAdjust="spacingAndGlyphs" fill="#151515">Heterogeneity:</text>
<text x="73.0" y="580.38" font-family='"Liberation Sans"' font-size="9" fill="#151515" textLength="148.60" lengthAdjust="spacing">Chi² <tspan font-family='"Liberation Serif"' font-size="7.8" dy="0.8">= 16.66,</tspan><tspan dy="-0.8"> df </tspan><tspan font-family='"Liberation Serif"' font-size="7.8" dy="0.8">= 11 (</tspan><tspan font-style="italic" dy="-0.8">P</tspan> <tspan font-family='"Liberation Serif"' font-size="7.8" dy="0.8">= 0.12);</tspan><tspan dy="-0.8"> I² </tspan><tspan font-family='"Liberation Serif"' font-size="7.8" dy="0.8">= 34%</tspan></text>
<text x="7.90" y="592.38" font-family='"Liberation Sans"' font-size="9" textLength="88.20" lengthAdjust="spacingAndGlyphs" fill="#151515">Test for overall effect:</text>
<text x="100.2" y="592.38" font-family='"Liberation Sans"' font-size="9" fill="#151515" textLength="65.50" lengthAdjust="spacing"><tspan font-style="italic">Z</tspan> <tspan font-family='"Liberation Serif"' font-size="7.8" dy="0.8">= 0.85 (</tspan><tspan font-style="italic" dy="-0.8">P</tspan> <tspan font-family='"Liberation Serif"' font-size="7.8" dy="0.8">= 0.40)</tspan></text>
<rect x="428.13" y="43.00" width="15.50" height="1.05" fill="#2a2a2a"/>
<rect x="433.84" y="41.52" width="3.96" height="3.96" fill="#16166a"/>
<rect x="418.21" y="55.00" width="22.84" height="1.05" fill="#2a2a2a"/>
<rect x="428.26" y="54.40" width="2.86" height="2.86" fill="#16166a"/>
<rect x="401.60" y="68.00" width="64.74" height="1.05" fill="#2a2a2a"/>
<rect x="433.02" y="67.51" width="1.30" height="1.30" fill="#16166a"/>
<rect x="422.43" y="80.00" width="19.19" height="1.05" fill="#2a2a2a"/>
<rect x="430.28" y="78.77" width="3.44" height="3.44" fill="#16166a"/>
<rect x="420.64" y="92.00" width="23.67" height="1.05" fill="#2a2a2a"/>
<rect x="431.19" y="91.44" width="2.76" height="2.76" fill="#16166a"/>
<rect x="424.66" y="105.00" width="39.42" height="1.05" fill="#2a2a2a"/>
<rect x="443.70" y="104.47" width="1.36" height="1.36" fill="#16166a"/>
<rect x="401.60" y="117.00" width="106.28" height="1.05" fill="#2a2a2a"/>
<rect x="453.91" y="116.83" width="1.30" height="1.30" fill="#16166a"/>
<rect x="422.09" y="129.00" width="37.92" height="1.05" fill="#2a2a2a"/>
<rect x="440.23" y="129.04" width="1.53" height="1.53" fill="#16166a"/>
<rect x="428.13" y="142.00" width="13.27" height="1.05" fill="#2a2a2a"/>
<rect x="432.31" y="139.75" width="4.77" height="4.77" fill="#1818b8"/>
<rect x="427.39" y="154.00" width="19.81" height="1.05" fill="#2a2a2a"/>
<rect x="435.85" y="153.00" width="2.93" height="2.93" fill="#16166a"/>
<rect x="384.47" y="166.00" width="77.37" height="1.05" fill="#2a2a2a"/>
<rect x="421.84" y="166.15" width="1.30" height="1.30" fill="#16166a"/>
<polygon points="431.40,178.90 434.70,173.60 438.01,178.90 434.70,184.20" fill="#000"/>
<rect x="423.42" y="253.00" width="20.01" height="1.05" fill="#2a2a2a"/>
<rect x="432.53" y="252.28" width="1.93" height="1.93" fill="#16166a"/>
<rect x="428.37" y="265.00" width="9.49" height="1.05" fill="#2a2a2a"/>
<rect x="431.45" y="263.90" width="3.36" height="3.36" fill="#16166a"/>
<rect x="432.36" y="277.00" width="7.36" height="1.05" fill="#2a2a2a"/>
<rect x="434.08" y="276.01" width="3.80" height="3.80" fill="#16166a"/>
<rect x="433.62" y="290.00" width="13.66" height="1.05" fill="#2a2a2a"/>
<rect x="439.06" y="288.88" width="2.71" height="2.71" fill="#16166a"/>
<rect x="424.05" y="302.00" width="12.17" height="1.05" fill="#2a2a2a"/>
<rect x="428.74" y="301.18" width="2.79" height="2.79" fill="#16166a"/>
<rect x="433.79" y="314.00" width="5.92" height="1.05" fill="#2a2a2a"/>
<rect x="433.71" y="311.88" width="6.04" height="6.04" fill="#0a0ae0"/>
<polygon points="434.19,327.00 435.83,321.70 437.59,327.00 435.83,332.30" fill="#000"/>
<rect x="433.09" y="401.00" width="3.29" height="1.05" fill="#2a2a2a"/>
<rect x="432.96" y="399.91" width="3.49" height="3.49" fill="#16166a"/>
<rect x="427.39" y="413.00" width="11.82" height="1.05" fill="#2a2a2a"/>
<rect x="432.62" y="413.28" width="1.39" height="1.39" fill="#16166a"/>
<rect x="432.17" y="426.00" width="4.81" height="1.05" fill="#2a2a2a"/>
<rect x="433.49" y="425.26" width="2.09" height="2.09" fill="#16166a"/>
<rect x="432.36" y="438.00" width="4.47" height="1.05" fill="#2a2a2a"/>
<rect x="433.38" y="437.48" width="2.31" height="2.31" fill="#16166a"/>
<rect x="432.55" y="450.00" width="3.68" height="1.05" fill="#2a2a2a"/>
<rect x="432.60" y="449.21" width="3.52" height="3.52" fill="#16166a"/>
<rect x="431.00" y="463.00" width="10.96" height="1.05" fill="#2a2a2a"/>
<rect x="435.74" y="462.60" width="1.39" height="1.39" fill="#16166a"/>
<rect x="432.36" y="475.00" width="4.62" height="1.05" fill="#2a2a2a"/>
<rect x="433.29" y="474.22" width="2.82" height="2.82" fill="#16166a"/>
<rect x="434.13" y="487.00" width="4.00" height="1.05" fill="#2a2a2a"/>
<rect x="434.65" y="486.48" width="2.96" height="2.96" fill="#16166a"/>
<rect x="429.07" y="500.00" width="7.31" height="1.05" fill="#2a2a2a"/>
<rect x="431.68" y="499.21" width="2.17" height="2.17" fill="#16166a"/>
<rect x="434.30" y="512.00" width="3.97" height="1.05" fill="#2a2a2a"/>
<rect x="434.32" y="510.66" width="3.92" height="3.92" fill="#16166a"/>
<rect x="429.51" y="524.00" width="5.91" height="1.05" fill="#2a2a2a"/>
<rect x="431.21" y="523.78" width="2.35" height="2.35" fill="#16166a"/>
<rect x="435.27" y="537.00" width="18.92" height="1.05" fill="#2a2a2a"/>
<rect x="444.10" y="536.63" width="1.30" height="1.30" fill="#16166a"/>
<polygon points="434.36,549.38 435.03,544.08 435.51,549.38 435.03,554.68" fill="#6a6a6a"/>
<rect x="358.5" y="609.6" width="153.4" height="1.5" fill="#3a3a3a"/>
<rect x="357.50" y="607.8" width="1.2" height="6.2" fill="#2a2a2a"/>
<rect x="395.80" y="607.8" width="1.2" height="6.2" fill="#2a2a2a"/>
<rect x="434.10" y="607.8" width="1.2" height="6.2" fill="#2a2a2a"/>
<rect x="472.40" y="607.8" width="1.2" height="6.2" fill="#2a2a2a"/>
<rect x="510.70" y="607.8" width="1.2" height="6.2" fill="#2a2a2a"/>
<text x="357.90" y="623.00" font-family='"Liberation Serif"' font-size="7.4" font-weight="bold" textLength="13.30" lengthAdjust="spacingAndGlyphs" fill="#222">0.01</text>
<text x="390.80" y="623.00" font-family='"Liberation Serif"' font-size="7.4" font-weight="bold" textLength="9.40" lengthAdjust="spacingAndGlyphs" fill="#222">0.1</text>
<text x="434.70" y="623.00" font-family='"Liberation Serif"' font-size="7.4" font-weight="bold" text-anchor="middle" fill="#222">1</text>
<text x="469.40" y="623.00" font-family='"Liberation Serif"' font-size="7.4" font-weight="bold" textLength="7.00" lengthAdjust="spacingAndGlyphs" fill="#222">10</text>
<text x="500.90" y="623.00" font-family='"Liberation Serif"' font-size="7.4" font-weight="bold" textLength="9.50" lengthAdjust="spacingAndGlyphs" fill="#222">100</text>
<text x="367.00" y="633.00" font-family='"Liberation Sans"' font-size="9" textLength="64.30" lengthAdjust="spacingAndGlyphs" fill="#333">Favours M-CSF</text>
<text x="439.50" y="633.00" font-family='"Liberation Sans"' font-size="9" textLength="64.20" lengthAdjust="spacingAndGlyphs" fill="#333">Favours control</text>
</svg>
</body></html>
